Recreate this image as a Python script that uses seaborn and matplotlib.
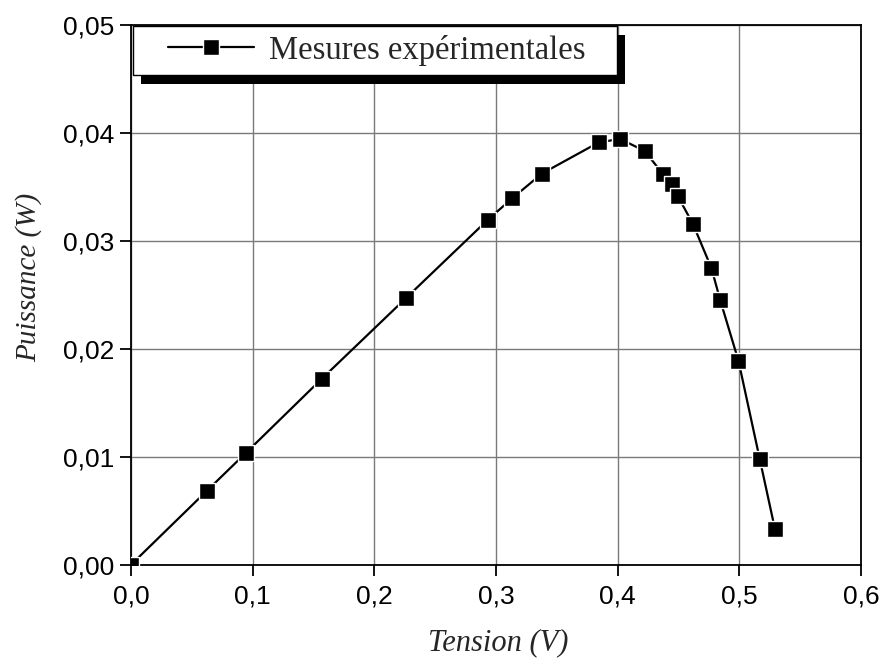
import numpy as np
import pandas as pd
import seaborn as sns
import matplotlib.pyplot as plt
from matplotlib.ticker import FuncFormatter, MultipleLocator
from matplotlib.patches import Rectangle

tension = [0.0, 0.0624, 0.0946, 0.1567, 0.2262, 0.2930, 0.3132, 0.3377, 0.3846,
           0.4021, 0.4221, 0.4369, 0.4445, 0.4495, 0.4620, 0.4771, 0.4842, 0.4993,
           0.5168, 0.5292]
puissance = [0.0, 0.00685, 0.01037, 0.0172, 0.0247, 0.0319, 0.0339, 0.0362, 0.0391,
             0.0394, 0.0383, 0.0362, 0.0352, 0.0341, 0.0315, 0.02744, 0.02451, 0.01886,
             0.00976, 0.00333]
serie = "Mesures expérimentales"

df = pd.DataFrame({"Tension": tension, "Puissance": puissance, "serie": serie})

sns.set_style("ticks")
plt.rcParams['font.family'] = ['Liberation Sans', 'DejaVu Sans']

fig = plt.figure(figsize=(8.83, 6.66), dpi=100)
ax = fig.add_axes([0.1484, 0.1521, 0.8267, 0.8111])

sns.lineplot(data=df, x="Tension", y="Puissance", sort=False, ax=ax,
             color="black", linewidth=1.6, marker="s", markersize=11.5,
             markeredgecolor="white", markeredgewidth=1.0, label=serie,
             legend=False, zorder=3)

ax.set_xlim(0, 0.6)
ax.set_ylim(0, 0.05)
ax.xaxis.set_major_locator(MultipleLocator(0.1))
ax.yaxis.set_major_locator(MultipleLocator(0.01))
ax.xaxis.set_major_formatter(FuncFormatter(lambda v, p: f"{v:.1f}".replace(".", ",")))
ax.yaxis.set_major_formatter(FuncFormatter(lambda v, p: f"{v:.2f}".replace(".", ",")))
ax.grid(True, color="#7a7a7a", linewidth=1.0)
ax.set_axisbelow(True)
for s in ax.spines.values():
    s.set_linewidth(1.3)
    s.set_color("black")
ax.tick_params(direction="out", length=8, width=1.3, labelsize=19, pad=4, colors="black")
ax.tick_params(axis="x", pad=6)

serif_it = dict(family=["Liberation Serif", "DejaVu Serif"], style="italic", size=22)
ax.set_xlabel("Tension (V)", fontdict=serif_it)
ax.set_ylabel("Puissance (W)", fontdict=dict(serif_it, size=21))
ax.xaxis.set_label_coords(0.503, -0.117)
ax.yaxis.set_label_coords(-0.122, 0.531)

# cadre de legende facon Origin avec ombre noire
ax.add_patch(Rectangle((0.0137, 0.8898), 0.663, 0.0916, transform=ax.transAxes,
                       facecolor="black", edgecolor="none", zorder=6, clip_on=False))
ax.add_patch(Rectangle((0.0027, 0.9065), 0.663, 0.0916, transform=ax.transAxes,
                       facecolor="white", edgecolor="black", linewidth=1.0,
                       zorder=7, clip_on=False))
leg = ax.legend(*ax.get_legend_handles_labels(), loc="center left",
                bbox_to_anchor=(0.0507, 0.9523), frameon=False, borderpad=0,
                borderaxespad=0, handlelength=2.62, handletextpad=0.46,
                prop=dict(family=["Liberation Serif", "DejaVu Serif"], size=23.5))
leg.set_zorder(8)

fig.savefig("out.png", dpi=100)
